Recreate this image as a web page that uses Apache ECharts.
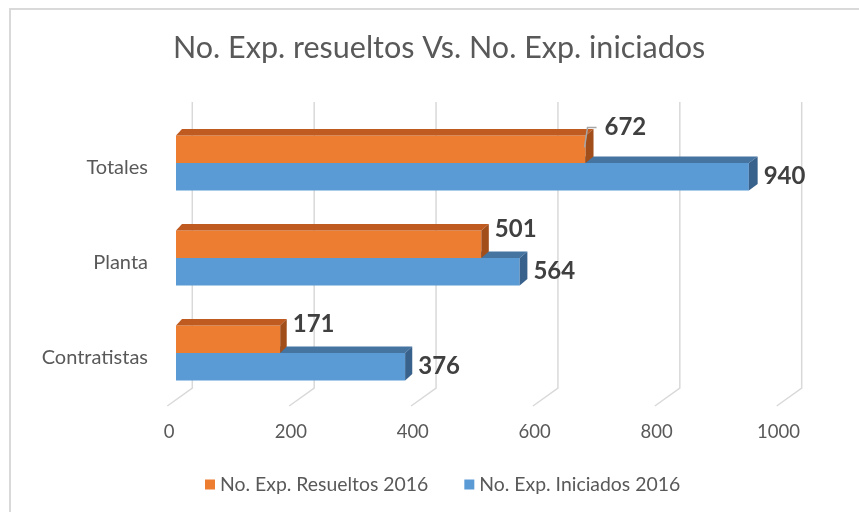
<!DOCTYPE html>
<html>
<head>
    <meta charset="utf-8">
    <title>No. Exp. resueltos Vs. No. Exp. iniciados</title>
    <script src="https://cdn.jsdelivr.net/npm/echarts@6/dist/echarts.min.js"></script>
    <style>
        html, body { margin: 0; padding: 0; background: #fff; }
    </style>
</head>
<body>
    <div id="main" style="width: 859px;height:512px;"></div>
    <script type="text/javascript">
        // data
        var categories = ['Contratistas', 'Planta', 'Totales'];
        var resueltos = [171, 501, 672];
        var iniciados = [376, 564, 940];
        var xTicks = [0, 200, 400, 600, 800, 1000];
        var seriesNames = ['No. Exp. Resueltos 2016', 'No. Exp. Iniciados 2016'];

        var font = 'Lato, "Open Sans", sans-serif';
        var textGrey = '#595959';

        // colours of the three faces of each 3D bar: front, top, side
        var faces = {
            orange: ['#ed7d31', '#bf5b21', '#a24e1b'],
            blue: ['#5b9bd5', '#4574a1', '#38618c']
        };

        var chartDom = document.getElementById('main');
        var myChart = echarts.init(chartDom, null, {renderer: 'canvas'});

        function toItems(values) {
            return values.map(function (v, i) { return [v, i]; });
        }

        // one 3D bar: front rect + top and side parallelograms + value label
        function barRenderer(colors, upper, moved) {
            return function (params, api) {
                var v = api.value(0);
                var cat = api.value(1);
                var p0 = api.coord([0, cat]);
                var p1 = api.coord([v, cat]);
                var barH = 27.5;
                var yTop = upper ? p0[1] - barH : p0[1];
                var yBot = yTop + barH;
                var x0 = p0[0], x1 = p1[0];
                var dy = 6.5;
                var dx0 = 6, dx1 = 6 + 3 * (x1 - x0) / 610;
                var children = [
                    {type: 'rect', shape: {x: x0, y: yTop, width: x1 - x0, height: barH},
                        style: {fill: colors[0]}},
                    {type: 'polygon', shape: {points: [[x0, yTop], [x0 + dx0, yTop - dy], [x1 + dx1, yTop - dy], [x1, yTop]]},
                        style: {fill: colors[1]}},
                    {type: 'polygon', shape: {points: [[x1, yTop], [x1 + dx1, yTop - dy], [x1 + dx1, yBot - dy], [x1, yBot]]},
                        style: {fill: colors[2]}}
                ];
                var lx = x1 + dx1 + 6;
                var ly = upper ? yTop - 1 : yTop + barH / 2;
                var m = moved && moved.index === params.dataIndex ? moved : null;
                if (m) {
                    children.push({type: 'polyline',
                        shape: {points: [[x1 - 1, yTop + 12], [x1 + 2, yTop - 8], [x1 + 11, yTop - 8]]},
                        style: {stroke: '#a6a6a6', lineWidth: 1.5, fill: null}});
                    lx += m.dx;
                    ly += m.dy;
                }
                children.push({type: 'text', x: lx, y: ly,
                    style: {text: String(v), fill: '#404040', font: 'bold 24px ' + font,
                        align: 'left', verticalAlign: 'middle'}});
                return {type: 'group', children: children};
            };
        }

        // gridlines: back wall, then the floor towards the front
        function gridRenderer(params, api) {
            var x = api.coord([api.value(0), 0])[0];
            return {
                type: 'polyline',
                shape: {points: [[x + 16.3, 102], [x + 16.3, 388], [x - 8.7, 406]]},
                style: {stroke: '#d9d9d9', lineWidth: 1.5, fill: null}
            };
        }

        var option = {
            animation: false,
            title: {
                text: 'No. Exp. resueltos Vs. No. Exp. iniciados',
                left: 168,
                top: 28,
                textStyle: {fontFamily: font, fontWeight: 'normal', fontSize: 30.5, color: textGrey}
            },
            legend: {
                data: seriesNames,
                left: 200,
                top: 470,
                icon: 'rect',
                itemWidth: 10,
                itemHeight: 10,
                itemGap: 36,
                textStyle: {fontFamily: font, fontSize: 19.4, color: textGrey}
            },
            grid: {left: 176, right: 73.6, top: 115.5, bottom: 111.5},
            xAxis: {
                type: 'value',
                min: 0,
                max: 1000,
                interval: 200,
                axisLine: {show: false},
                axisTick: {show: false},
                splitLine: {show: false},
                axisLabel: {
                    margin: 22,
                    padding: [0, 14, 0, 0],
                    formatter: function (v) { return String(v); },
                    fontFamily: font, fontSize: 18.5, color: textGrey
                }
            },
            yAxis: {
                type: 'category',
                data: categories,
                axisLine: {show: false},
                axisTick: {show: false},
                axisLabel: {
                    margin: 28,
                    formatter: '{c|{value}}',
                    rich: {
                        c: {padding: [10, 0, 0, 0], fontFamily: font, fontSize: 20, color: textGrey}
                    }
                }
            },
            graphic: [{
                type: 'polyline',
                shape: {points: [[10, 512], [10, 9], [859, 9]]},
                style: {stroke: '#d9d9d9', lineWidth: 2, fill: null},
                silent: true
            }],
            series: [{
                type: 'custom',
                name: 'grid',
                z: 1,
                silent: true,
                renderItem: gridRenderer,
                data: xTicks.map(function (v) { return [v, 0]; }),
                encode: {x: 0, y: 1}
            }, {
                type: 'custom',
                name: seriesNames[1],
                z: 2,
                itemStyle: {color: faces.blue[0]},
                renderItem: barRenderer(faces.blue, false, null),
                data: toItems(iniciados),
                encode: {x: 0, y: 1}
            }, {
                type: 'custom',
                name: seriesNames[0],
                z: 3,
                itemStyle: {color: faces.orange[0]},
                // the 672 label sits a little up and right, with a leader line
                renderItem: barRenderer(faces.orange, true, {index: 2, dx: 5, dy: -7}),
                data: toItems(resueltos),
                encode: {x: 0, y: 1}
            }]
        };
        myChart.setOption(option);
    </script>
</body>
</html>
